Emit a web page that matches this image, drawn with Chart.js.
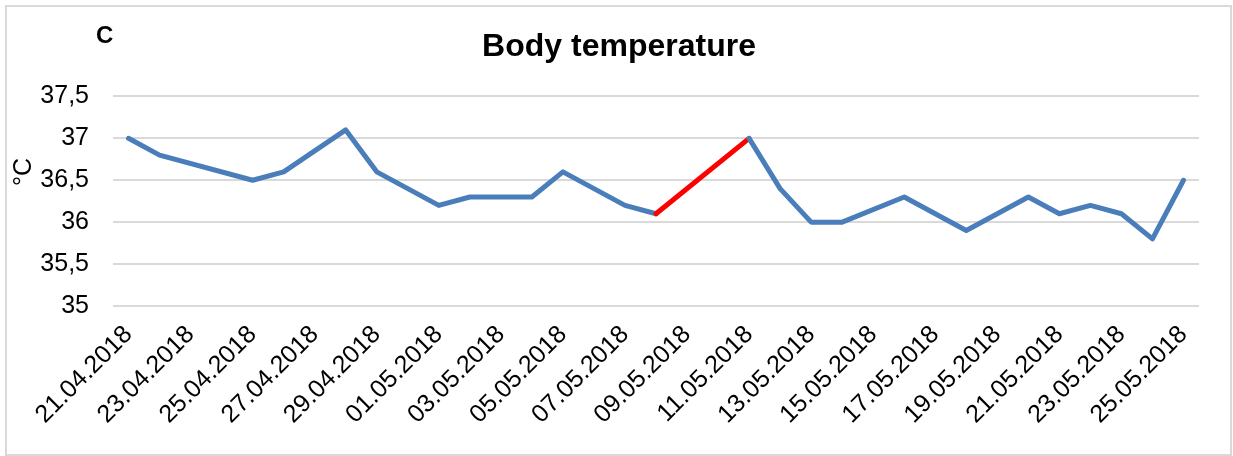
<!DOCTYPE html>
<html>
<head>
<meta charset="utf-8">
<title>Body temperature</title>
<script src="https://cdn.jsdelivr.net/npm/chart.js@4/dist/chart.umd.min.js"></script>
<style>
  html, body { margin: 0; padding: 0; background: #ffffff; }
  #wrap { position: relative; width: 1233px; height: 456px; }
  #frame {
    position: absolute; left: 5px; top: 5px; width: 1223px; height: 447px;
    border: 2px solid #d9d9d9; pointer-events: none;
  }
  canvas { position: absolute; left: 0; top: 0; }
</style>
</head>
<body>
<div id="wrap">
  <canvas id="chart" width="1233" height="456"></canvas>
  <div id="frame"></div>
</div>
<script>
// Daily readings, 21.04.2018 – 25.05.2018 (null = no measurement that day)
const dates = [
  '21.04.2018','22.04.2018','23.04.2018','24.04.2018','25.04.2018','26.04.2018','27.04.2018',
  '28.04.2018','29.04.2018','30.04.2018','01.05.2018','02.05.2018','03.05.2018','04.05.2018',
  '05.05.2018','06.05.2018','07.05.2018','08.05.2018','09.05.2018','10.05.2018','11.05.2018',
  '12.05.2018','13.05.2018','14.05.2018','15.05.2018','16.05.2018','17.05.2018','18.05.2018',
  '19.05.2018','20.05.2018','21.05.2018','22.05.2018','23.05.2018','24.05.2018','25.05.2018'
];
const temperature = [
  37.0, 36.8, null, null, 36.5, 36.6, null,
  37.1, 36.6, null, 36.2, 36.3, null, 36.3,
  36.6, null, 36.2, 36.1, null, null, 37.0,
  36.4, 36.0, 36.0, null, 36.3, null, 35.9,
  null, 36.3, 36.1, 36.2, 36.1, 35.8, 36.5
];
// The stretch starting at the reading on this date is drawn in red
const highlightStart = '08.05.2018';
const yTicks = [35, 35.5, 36, 36.5, 37, 37.5];

const FONT = "'Liberation Sans', Arial, sans-serif";
const BLUE = '#4a7ebb';
const RED = '#ff0000';

// index of the last actual reading before the segment end (gaps are spanned)
function segmentStart(endIndex) {
  let i = endIndex - 1;
  while (i > 0 && temperature[i] === null) i--;
  return i;
}

const annotations = {
  id: 'annotations',
  afterDraw(chart) {
    const ctx = chart.ctx;
    ctx.save();
    ctx.fillStyle = '#000000';
    // panel letter
    ctx.font = 'bold 24px ' + FONT;
    ctx.textAlign = 'left';
    ctx.textBaseline = 'alphabetic';
    ctx.fillText('C', 96, 43);
    // unit label along the value axis
    ctx.translate(31, 172);
    ctx.rotate(-Math.PI / 2);
    ctx.font = '25px ' + FONT;
    ctx.textAlign = 'center';
    ctx.textBaseline = 'alphabetic';
    ctx.fillText('°C', 0, 0);
    ctx.restore();
  }
};

new Chart(document.getElementById('chart'), {
  type: 'line',
  data: {
    labels: dates,
    datasets: [{
      data: temperature,
      borderColor: BLUE,
      borderWidth: 5,
      borderJoinStyle: 'round',
      borderCapStyle: 'round',
      pointRadius: 0,
      tension: 0,
      spanGaps: true,
      fill: false,
      segment: {
        borderColor: c => dates[segmentStart(c.p1DataIndex)] === highlightStart ? RED : BLUE
      }
    }]
  },
  options: {
    responsive: false,
    animation: false,
    devicePixelRatio: 1,
    layout: { padding: { left: 39, right: 34, top: 0, bottom: 0 } },
    plugins: {
      legend: { display: false },
      tooltip: { enabled: false },
      title: {
        display: true,
        text: 'Body temperature',
        color: '#000000',
        font: { family: FONT, size: 32, weight: 'bold' },
        padding: { top: 28, bottom: 30 }
      }
    },
    scales: {
      x: {
        offset: true,
        grid: { display: false },
        border: { display: false },
        ticks: {
          autoSkip: false,
          minRotation: 45,
          maxRotation: 45,
          padding: 6,
          color: '#000000',
          font: { family: FONT, size: 25 },
          callback: (v, i) => (i % 2 === 0 ? dates[i] : '')
        },
        afterFit: s => { s.height = 150; }
      },
      y: {
        min: yTicks[0],
        max: yTicks[yTicks.length - 1],
        afterBuildTicks: s => { s.ticks = yTicks.map(v => ({ value: v })); },
        grid: { color: '#d9d9d9', lineWidth: 2, drawTicks: false },
        border: { display: false },
        ticks: {
          padding: 24,
          color: '#000000',
          font: { family: FONT, size: 25 },
          callback: v => String(v).replace('.', ',')
        },
        afterFit: s => { s.width = 74; }
      }
    }
  },
  plugins: [annotations]
});
</script>
</body>
</html>
